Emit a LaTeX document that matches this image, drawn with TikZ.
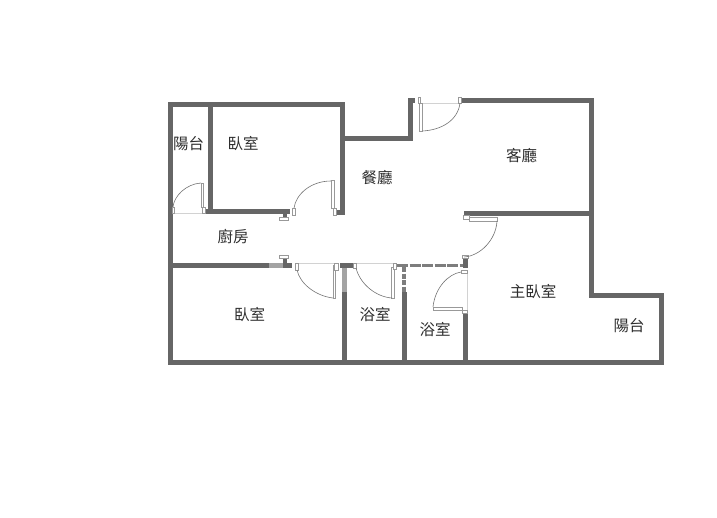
\documentclass[tikz,border=0pt]{standalone}
\usepackage{fontspec}
\newfontfamily\cjk{Noto Sans CJK TC}
\definecolor{wallgray}{HTML}{666666}
\definecolor{textgray}{HTML}{2E2E2E}

\begin{document}
\begin{tikzpicture}[
    x=1pt, y=-1pt,
    wall/.style={draw=wallgray, line width=5pt, line cap=butt},
    thinwall/.style={draw=wallgray!60, line width=5pt},
    dashwall/.style={draw=wallgray!85, line width=3.4pt, dash pattern=on 11pt off 1.5pt},
    jamb/.style={draw=gray!80, fill=white, line width=0.7pt},
    swing/.style={draw=gray!90!black, line width=0.6pt},
    sill/.style={draw=gray!35, line width=0.5pt},
    room/.style={font=\cjk\fontsize{15.5}{17}\selectfont, text=textgray, inner sep=0pt}
]
\useasboundingbox (0,0) rectangle (717,517);

% outer walls
\draw[wall] (170.5,102) -- (170.5,362.3) -- (664,362.3);
\draw[wall] (168,104.5) -- (345,104.5);
\draw[wall] (342.5,102) -- (342.5,212.5) -- (337,212.5);
\draw[wall] (344,138) -- (411,138);
\draw[wall] (410.7,141) -- (410.7,100.5) -- (415,100.5);
\draw[wall] (462,100.5) -- (591.7,100.5) -- (591.7,295) -- (661.7,295) -- (661.7,362);

% inner walls
\draw[wall] (210,104) -- (210,213);
\draw[wall] (206,211.5) -- (290,211.5);
\draw[wall] (170,265.5) -- (269,265.5);
\draw[thinwall] (269,265.5) -- (283,265.5);
\draw[wall] (283,265.5) -- (292,265.5);
\draw[wall] (340,265.5) -- (353,265.5);
\draw[thinwall] (344,268) -- (344,292);
\draw[wall] (344,292) -- (344,362);
\draw[dashwall] (397,265.5) -- (463,265.5);
\draw[dashwall, dash pattern=on 5pt off 1.5pt] (404,267) -- (404,292);
\draw[wall] (404,292) -- (404,362);
\draw[wall] (464,213.3) -- (592,213.3);
\draw[wall] (465.7,258) -- (465.7,268);
\draw[wall] (465.7,313) -- (465.7,362);

% stubs
\draw[wall, line width=4pt] (285,212) -- (285,217);
\draw[jamb] (279,217) rectangle (288,220);
\draw[wall, line width=4pt] (285,258) -- (285,265);
\draw[jamb] (279,255) rectangle (288,258);

% door sills
\draw[sill] (172,213) -- (205,213);
\draw[sill] (419,103) -- (460,103);
\draw[sill] (297,263.5) -- (335,263.5);
\draw[sill] (355,263.5) -- (395,263.5);
\draw[sill] (467.5,272) -- (467.5,313);

% balcony door
\draw[jamb] (201,183) rectangle (203.5,207);
\draw[jamb] (202,207) rectangle (205,213);
\draw[jamb] (172,207) rectangle (174,213);
\draw[swing] (201,183) .. controls (186,184) and (174,196) .. (173,207);

% bedroom door
\draw[jamb] (331,180) rectangle (334,208);
\draw[jamb] (333,208) rectangle (336,215);
\draw[jamb] (292,208) rectangle (295,215);
\draw[swing] (331,181) .. controls (311,181) and (296,194) .. (294,208);

% entrance door
\draw[jamb] (419,103) rectangle (422.5,131.5);
\draw[jamb] (418,97) rectangle (420.5,103);
\draw[jamb] (458.5,97) rectangle (461,103);
\draw[swing] (422.5,131) .. controls (442,130) and (458,120) .. (460,103);

% lower bedroom door
\draw[jamb] (333,265) rectangle (335.5,298);
\draw[jamb] (295,263.5) rectangle (298,270);
\draw[jamb] (334,263.5) rectangle (338,270);
\draw[swing] (297,270) .. controls (300,284) and (316,296) .. (333,298);

% bathroom doors
\draw[jamb] (391.5,267) rectangle (394,298);
\draw[jamb] (393,263.5) rectangle (396.5,269);
\draw[jamb] (353,263.5) rectangle (356.5,268);
\draw[swing] (356,268) .. controls (360,284) and (376,297) .. (392,298);
\draw[jamb] (433,307) rectangle (462,310);
\draw[jamb] (461,270) rectangle (467,273);
\draw[jamb] (462,310) rectangle (467,313);
\draw[swing] (433,307) .. controls (435,288) and (448,274) .. (461,272);

% master bedroom door
\draw[jamb] (469,217.5) rectangle (497,221);
\draw[jamb] (463,215.5) rectangle (469,219);
\draw[jamb] (462,255) rectangle (468,258);
\draw[swing] (497,221) .. controls (496,240) and (480,256) .. (464,257);

% rooms
\node[room] (balconywest) at (188.5,144) {\cjk 陽台};
\node[room] (bedroomnorth) at (243,144) {\cjk 臥室};
\node[room] (dining) at (377,177.5) {\cjk 餐廳};
\node[room] (living) at (521.5,156) {\cjk 客廳};
\node[room] (kitchen) at (233,237) {\cjk 廚房};
\node[room] (bedroomsouth) at (249.5,315) {\cjk 臥室};
\node[room] (bathwest) at (375,315) {\cjk 浴室};
\node[room] (batheast) at (435,330) {\cjk 浴室};
\node[room] (master) at (533,292) {\cjk 主臥室};
\node[room] (balconyeast) at (629,326) {\cjk 陽台};

\end{tikzpicture}
\end{document}
